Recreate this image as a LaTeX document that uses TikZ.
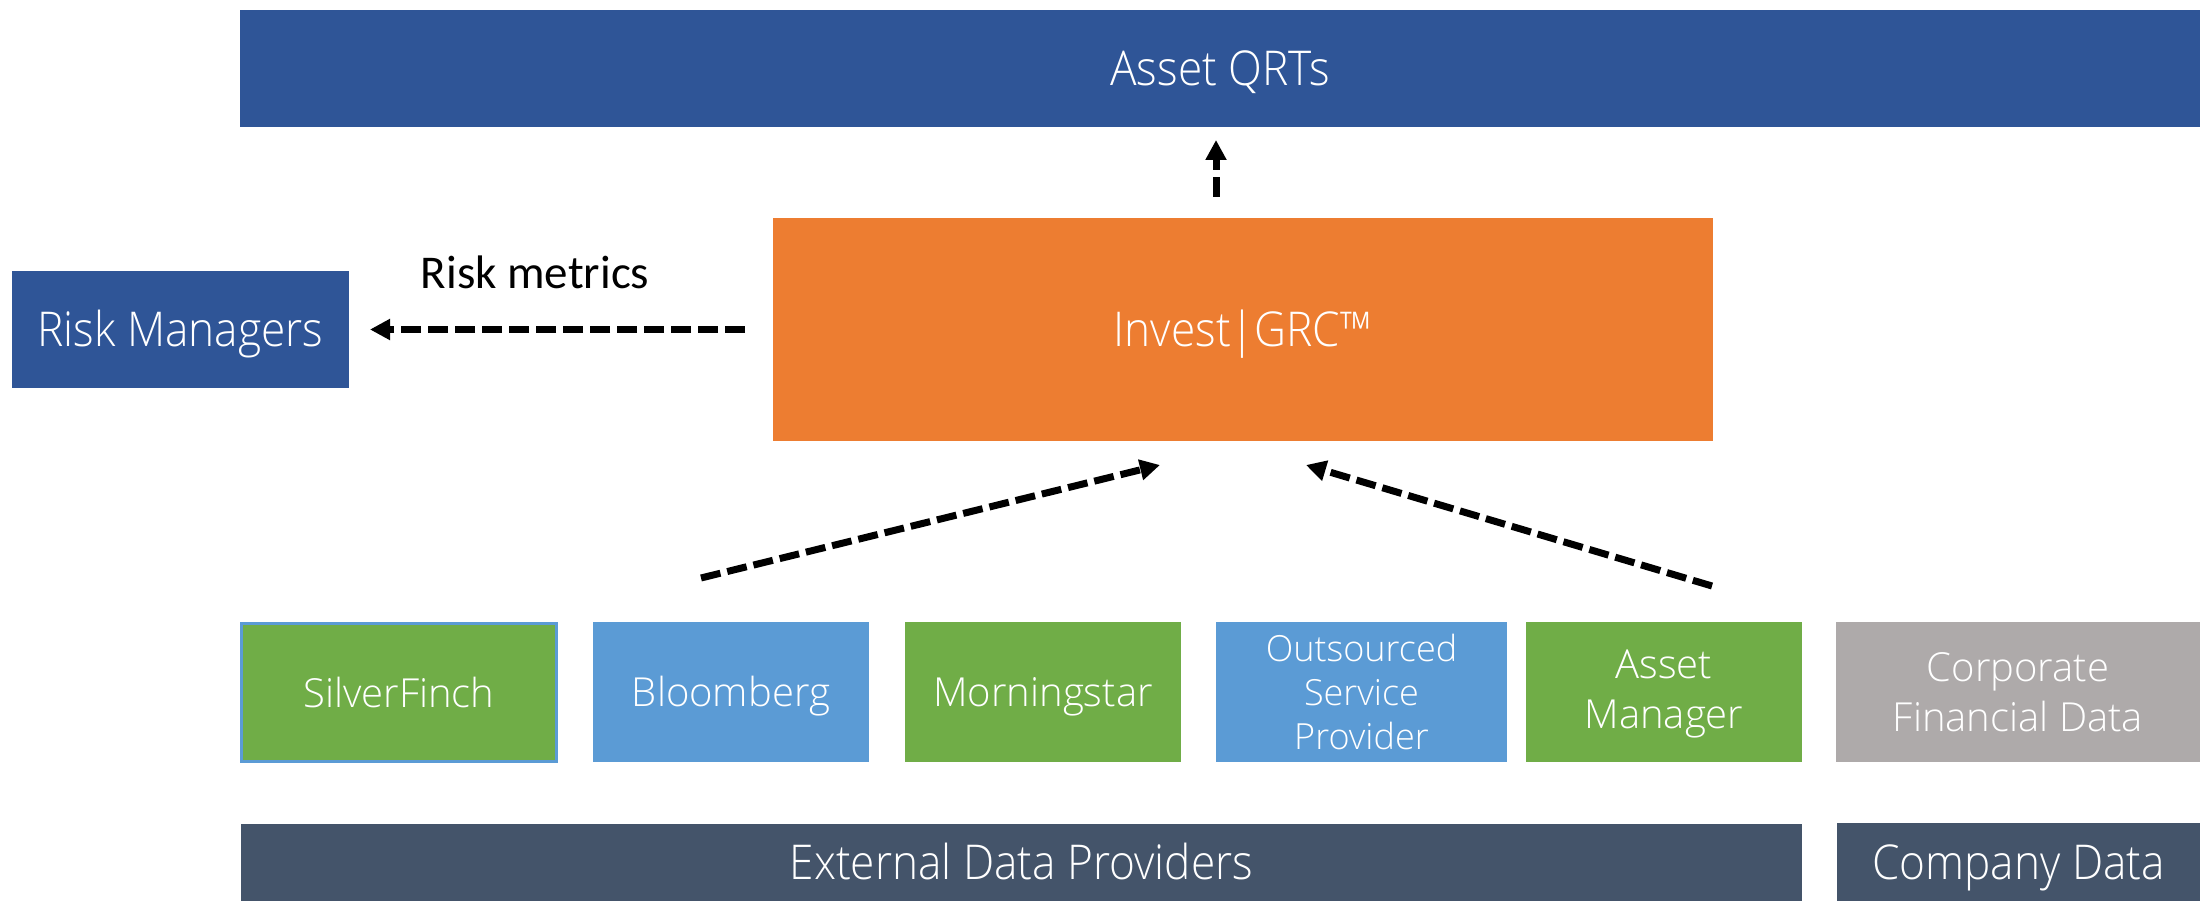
\documentclass[tikz,border=0pt]{standalone}
\usepackage{fontspec}
\setmainfont{Open Sans Light}[FakeStretch=0.92]
\newfontfamily\boxfont{Open Sans Light}
\newfontfamily\calib{Carlito}
\usetikzlibrary{arrows.meta}
\definecolor{qblue}{HTML}{2F5597}
\definecolor{qorange}{HTML}{ED7D31}
\definecolor{qgreen}{HTML}{70AD47}
\definecolor{qlblue}{HTML}{5B9BD5}
\definecolor{qgray}{HTML}{AEAAAA}
\definecolor{qdark}{HTML}{44546A}
\begin{document}
\begin{tikzpicture}[x=1pt,y=-1pt,
  box/.style={inner sep=0pt,outer sep=0pt,text=white,align=center,font=\fontsize{48}{58}\selectfont},
  big/.style={text height=34pt},
  small/.style={text height=29pt},
  src/.style={box,minimum height=140pt,font=\boxfont\fontsize{40}{50}\selectfont},
  flow/.style={line width=7pt,dash pattern=on 20pt off 7pt,-{Triangle[length=20pt,width=20pt]}}]
\useasboundingbox (0,0) rectangle (2200,901);
\node[box,big,text depth=-5pt,fill=qblue,minimum width=1960pt,minimum height=117pt] (qrt) at (1220,68.5) {Asset QRTs};
\node[box,big,text depth=0pt,fill=qblue,minimum width=337pt,minimum height=117pt] (rm) at (180.5,329.5) {Risk Managers};
\node[box,big,text depth=0pt,fill=qorange,minimum width=940pt,minimum height=223pt] (inv) at (1243,329.5) {Invest|GRC™};
\node[anchor=base,inner sep=0pt,font=\calib\fontsize{47}{56}\selectfont] (rmet) at (535,289) {Risk metrics};
\node[src,small,text depth=-2pt,fill=qgreen,draw=qlblue,line width=3pt,minimum width=315pt,minimum height=138pt] (sf) at (399,692.5) {SilverFinch};
\node[src,small,text depth=-3pt,fill=qlblue,minimum width=276pt] (bb) at (731,692) {Bloomberg};
\node[src,small,text depth=-3pt,fill=qgreen,minimum width=276pt] (ms) at (1043,692) {Morningstar};
\node[src,fill=qlblue,minimum width=291pt,font=\boxfont\fontsize{36}{44}\selectfont] (os) at (1361.5,692) {Outsourced\\Service\\Provider};
\node[src,fill=qgreen,minimum width=276pt,text depth=6pt] (am) at (1664,692) {Asset\\Manager};
\node[src,fill=qgray,minimum width=364pt] (cfd) at (2018,692) {Corporate\\Financial Data};
\node[box,big,text depth=-7pt,fill=qdark,minimum width=1561pt,minimum height=77pt] (edp) at (1021.5,862.5) {External Data Providers};
\node[box,big,text depth=-8pt,fill=qdark,minimum width=363pt,minimum height=78pt] (cd) at (2018.5,862) {Company Data};
\coordinate (a1s) at (701,578);
\coordinate (a1e) at (1160,465);
\coordinate (a2s) at (1712,586);
\coordinate (a2e) at (1306,465);
\draw[flow,shorten <=28pt,shorten >=21pt] (inv.west) -- (rm.east);
\draw[flow,shorten <=21pt,shorten >=13pt] ([xshift=-27pt]inv.north) -- ([xshift=-27pt]inv.north |- qrt.south);
\draw[flow] (a1s) -- (a1e);
\draw[flow] (a2s) -- (a2e);
\end{tikzpicture}
\end{document}
